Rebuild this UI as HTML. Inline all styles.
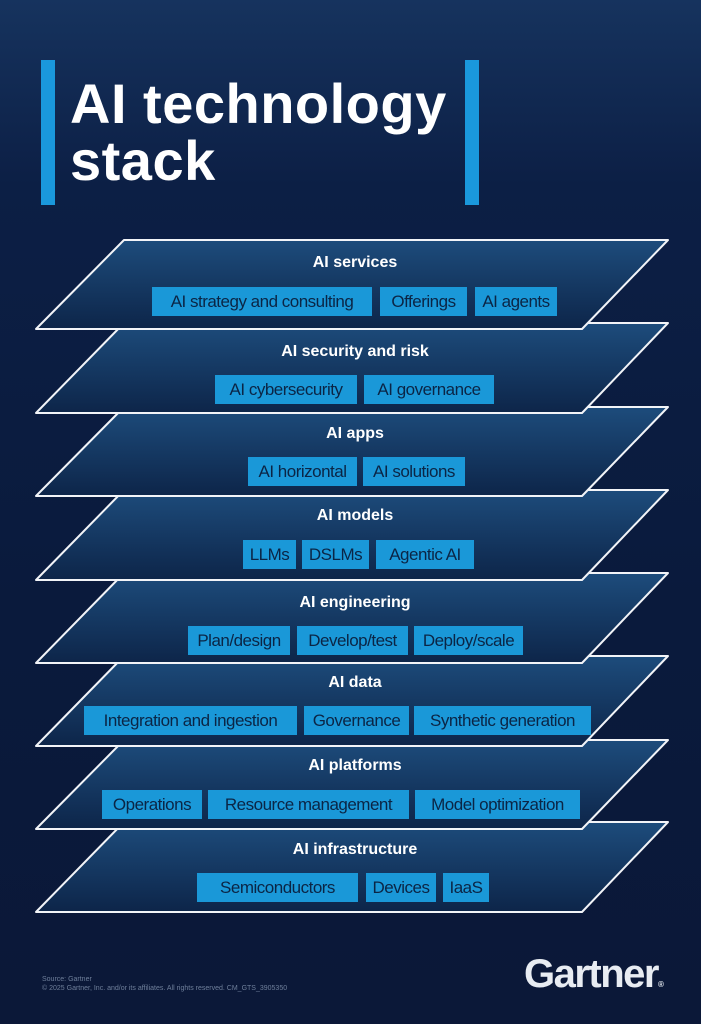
<!DOCTYPE html>
<html><head><meta charset="utf-8"><style>
*{margin:0;padding:0;box-sizing:border-box}
body{width:701px;height:1024px;overflow:hidden;background:linear-gradient(180deg,#16335e 0%,#0c1f45 18%,#0a1a3c 60%,#0b1838 100%);font-family:"Liberation Sans",sans-serif;position:relative}
.bar{position:absolute;background:#1a98dc;width:14px;top:60px;height:145px}
.t{position:absolute;left:70px;color:#fff;font-weight:bold;font-size:56px;letter-spacing:0.5px;line-height:1}
svg{position:absolute;left:0;top:0}
.h{position:absolute;color:#fff;font-weight:bold;font-size:16px;transform:translateX(-50%);white-space:nowrap;line-height:1}
.c{position:absolute;background:#1a98d8;color:#0b2545;font-size:17px;height:29px;line-height:29px;text-align:center;white-space:nowrap;letter-spacing:-0.5px}
.f{position:absolute;color:#6f7f9a;font-size:7px;line-height:9px;left:42px;top:975px}
.g{position:absolute;left:524px;top:952px;color:#e8ecf2;font-weight:bold;font-size:40px;letter-spacing:-1.5px}
</style></head><body>
<div class="bar" style="left:41px"></div><div class="bar" style="left:465px"></div>
<div class="t" style="top:76px">AI technology</div>
<div class="t" style="top:133px">stack</div>
<svg width="701" height="1024">
<defs><linearGradient id="lg" x1="0" y1="0" x2="0" y2="1"><stop offset="0" stop-color="#1d4c7c"/><stop offset="1" stop-color="#0d2549"/></linearGradient></defs>
<g fill="url(#lg)" stroke="#f2f4f8" stroke-width="2" stroke-linejoin="round">
<polygon points="124,822 668,822 582,912 36,912"/>
<polygon points="124,740 668,740 582,829 36,829"/>
<polygon points="124,656 668,656 582,746 36,746"/>
<polygon points="124,573 668,573 582,663 36,663"/>
<polygon points="124,490 668,490 582,580 36,580"/>
<polygon points="124,407 668,407 582,496 36,496"/>
<polygon points="124,323 668,323 582,413 36,413"/>
<polygon points="124,240 668,240 582,329 36,329"/>
</g></svg>
<div class="h" style="left:355px;top:255px">AI services</div>
<div class="c" style="left:152px;top:287px;width:220px">AI strategy and consulting</div>
<div class="c" style="left:380px;top:287px;width:87px">Offerings</div>
<div class="c" style="left:475px;top:287px;width:82px">AI agents</div>
<div class="h" style="left:355px;top:344px">AI security and risk</div>
<div class="c" style="left:215px;top:375px;width:142px">AI cybersecurity</div>
<div class="c" style="left:364px;top:375px;width:130px">AI governance</div>
<div class="h" style="left:355px;top:426px">AI apps</div>
<div class="c" style="left:248px;top:457px;width:109px">AI horizontal</div>
<div class="c" style="left:363px;top:457px;width:102px">AI solutions</div>
<div class="h" style="left:355px;top:508px">AI models</div>
<div class="c" style="left:243px;top:540px;width:53px">LLMs</div>
<div class="c" style="left:302px;top:540px;width:67px">DSLMs</div>
<div class="c" style="left:376px;top:540px;width:98px">Agentic AI</div>
<div class="h" style="left:355px;top:595px">AI engineering</div>
<div class="c" style="left:188px;top:626px;width:102px">Plan/design</div>
<div class="c" style="left:297px;top:626px;width:111px">Develop/test</div>
<div class="c" style="left:414px;top:626px;width:109px">Deploy/scale</div>
<div class="h" style="left:355px;top:675px">AI data</div>
<div class="c" style="left:84px;top:706px;width:213px">Integration and ingestion</div>
<div class="c" style="left:304px;top:706px;width:105px">Governance</div>
<div class="c" style="left:414px;top:706px;width:177px">Synthetic generation</div>
<div class="h" style="left:355px;top:758px">AI platforms</div>
<div class="c" style="left:102px;top:790px;width:100px">Operations</div>
<div class="c" style="left:208px;top:790px;width:201px">Resource management</div>
<div class="c" style="left:415px;top:790px;width:165px">Model optimization</div>
<div class="h" style="left:355px;top:842px">AI infrastructure</div>
<div class="c" style="left:197px;top:873px;width:161px">Semiconductors</div>
<div class="c" style="left:366px;top:873px;width:70px">Devices</div>
<div class="c" style="left:443px;top:873px;width:46px">IaaS</div>
<div class="f">Source: Gartner<br>© 2025 Gartner, Inc. and/or its affiliates. All rights reserved. CM_GTS_3905350</div>
<div class="g">Gartner<span style="font-size:8px">®</span></div>
</body></html>
